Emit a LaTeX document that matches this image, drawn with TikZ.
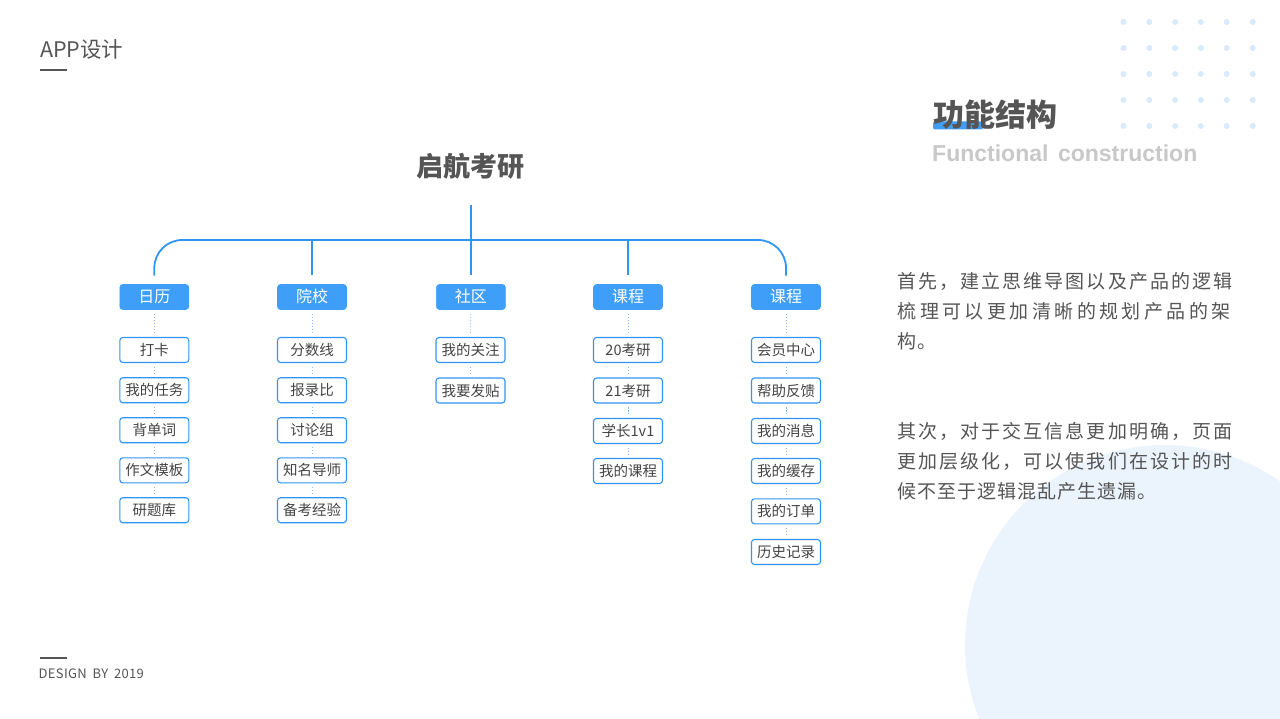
\documentclass[tikz,border=0pt]{standalone}
\usepackage{fontspec}
\usepackage{xcolor}
\setmainfont{Noto Sans CJK SC}
\newfontfamily\titlefont[WordSpace=1.5]{Liberation Sans}
\newfontfamily\paraA[LetterSpace=10.7]{Noto Sans CJK SC}
\newfontfamily\paraB[LetterSpace=18]{Noto Sans CJK SC}
\newfontfamily\paraC[LetterSpace=5]{Noto Sans CJK SC}
\newfontfamily\footfont[LetterSpace=2.5,WordSpace=1.8]{Noto Sans CJK SC}
\definecolor{textgray}{HTML}{555555}
\definecolor{itemgray}{HTML}{444444}
\definecolor{subgray}{HTML}{C8C8C8}
\definecolor{appblue}{HTML}{3F9FF8}
\definecolor{lineblue}{HTML}{2F95F3}
\definecolor{softblue}{HTML}{EBF4FD}
\definecolor{dotblue}{HTML}{D9EAFB}
\tikzset{
    headbox/.style={draw=appblue, fill=appblue, rounded corners=3pt, line width=.6pt,
        minimum width=69pt, minimum height=25pt, inner sep=0pt, text height=12pt, text depth=0pt,
        text=white, font=\fontsize{16}{16}\selectfont},
    itembox/.style={draw=lineblue, fill=white, rounded corners=3pt, line width=1.1pt,
        minimum width=69pt, minimum height=25pt, inner sep=0pt, text height=11pt, text depth=0pt,
        text=itemgray, font=\fontsize{14.5}{15}\selectfont},
    busline/.style={draw=lineblue, line width=1.8pt},
    dotline/.style={draw=lineblue!60, line width=.7pt, dash pattern=on 1.5pt off 1.5pt},
    paraline/.style={anchor=west, inner sep=0pt, text=textgray},
}

\begin{document}
\begin{tikzpicture}[x=1pt, y=-1pt]
            \useasboundingbox (0, 0) rectangle (1280, 719);

            % backdrop
            \begin{scope}
                \clip (0, 0) rectangle (1280, 719);
                \fill[softblue] (1165, 645) circle (200pt);
            \end{scope}
            \foreach \dotx in {1123.5, 1149.3, 1175.1, 1200.9, 1226.7, 1252.7}
                \foreach \doty in {22, 48, 74, 100, 126}
                    \fill[dotblue] (\dotx, \doty) circle (3pt);

            % page furniture
            \node [anchor=west, inner sep=0pt, text=textgray, font=\fontsize{21.5}{22}\selectfont] (apptitle) at (40, 49) {APP设计};
            \fill[textgray] (40, 68.6) rectangle (67, 70.6);
            \fill[textgray] (40, 656.6) rectangle (67, 658.6);
            \node [anchor=west, inner sep=0pt, text=textgray, font=\footfont\fontsize{13}{14}\selectfont] (design) at (38.5, 674) {DESIGN BY 2019};

            % heading
            \fill[appblue, rounded corners=2pt] (933, 121.5) rectangle (983, 129.5);
            \node [anchor=west, inner sep=0pt, text=textgray, font=\bfseries\fontsize{31}{32}\selectfont] (heading) at (933, 115) {功能结构};
            \node [anchor=west, inner sep=0pt, text=subgray, font=\titlefont\bfseries\fontsize{23}{24}\selectfont] (subheading) at (932, 153) {Functional construction};

            % paragraphs
            \node [paraline, font=\paraA\fontsize{19}{20}\selectfont] (p1) at (897.5, 281) {首先，建立思维导图以及产品的逻辑};
            \node [paraline, font=\paraB\fontsize{19}{20}\selectfont] (p2) at (897.5, 311) {梳理可以更加清晰的规划产品的架};
            \node [paraline, font=\paraC\fontsize{19}{20}\selectfont] (p3) at (897.5, 341) {构。};
            \node [paraline, font=\paraA\fontsize{19}{20}\selectfont] (p4) at (897.5, 431) {其次，对于交互信息更加明确，页面};
            \node [paraline, font=\paraA\fontsize{19}{20}\selectfont] (p5) at (897.5, 461) {更加层级化，可以使我们在设计的时};
            \node [paraline, font=\paraC\fontsize{19}{20}\selectfont] (p6) at (897.5, 491) {候不至于逻辑混乱产生遗漏。};

            % tree
            \node [minimum height=26pt, inner sep=0pt, text=textgray, font=\bfseries\fontsize{27}{28}\selectfont] (root) at (470.9, 166) {启航考研};

            \node [headbox] (h1) at (154.3, 297) {日历};
            \node [headbox] (h2) at (312, 297) {院校};
            \node [headbox] (h3) at (470.9, 297) {社区};
            \node [headbox] (h4) at (628, 297) {课程};
            \node [headbox] (h5) at (786, 297) {课程};

            \node [itembox] (a1) at (154.3, 350) {打卡};
            \node [itembox] (a2) at (154.3, 390.2) {我的任务};
            \node [itembox] (a3) at (154.3, 430.2) {背单词};
            \node [itembox] (a4) at (154.3, 470.3) {作文模板};
            \node [itembox] (a5) at (154.3, 510.2) {研题库};

            \node [itembox] (b1) at (312, 350) {分数线};
            \node [itembox] (b2) at (312, 390.2) {报录比};
            \node [itembox] (b3) at (312, 430.2) {讨论组};
            \node [itembox] (b4) at (312, 470.3) {知名导师};
            \node [itembox] (b5) at (312, 510.2) {备考经验};

            \node [itembox] (c1) at (470.5, 350) {我的关注};
            \node [itembox] (c2) at (470.5, 390.5) {我要发贴};

            \node [itembox] (d1) at (628, 350) {20考研};
            \node [itembox] (d2) at (628, 390.5) {21考研};
            \node [itembox] (d3) at (628, 431) {学长1v1};
            \node [itembox] (d4) at (628, 471) {我的课程};

            \node [itembox] (e1) at (786, 350) {会员中心};
            \node [itembox] (e2) at (786, 390.5) {帮助反馈};
            \node [itembox] (e3) at (786, 431) {我的消息};
            \node [itembox] (e4) at (786, 471) {我的缓存};
            \node [itembox] (e5) at (786, 511.3) {我的订单};
            \node [itembox] (e6) at (786, 552) {历史记录};

            % bus
            \coordinate (busl) at (154.3, 240);
            \coordinate (busr) at (786, 240);
            \draw[busline, rounded corners=28pt, shorten <=8.5pt, shorten >=8.5pt] (h1.north) -- (busl) -- (busr) -- (h5.north);
            \draw[busline, shorten <=26pt, shorten >=9pt] (root.south) -- (h3.north);
            \draw[busline, shorten >=9pt] (h2.north |- busl) -- (h2.north);
            \draw[busline, shorten >=9pt] (h4.north |- busl) -- (h4.north);

            % dotted links
            \foreach \upper/\lower in {h1/a1, h2/b1, h3/c1, h4/d1, h5/e1}
                \draw[dotline, shorten <=4pt, shorten >=4pt] (\upper.south) -- (\lower.north);
            \foreach \upper/\lower in {a1/a2, a2/a3, a3/a4, a4/a5, b1/b2, b2/b3, b3/b4, b4/b5,
                    c1/c2, d1/d2, d2/d3, d3/d4, e1/e2, e2/e3, e3/e4, e4/e5, e5/e6}
                \draw[dotline, shorten <=3.5pt, shorten >=3.5pt] (\upper.south) -- (\lower.north);
        \end{tikzpicture}
\end{document}
